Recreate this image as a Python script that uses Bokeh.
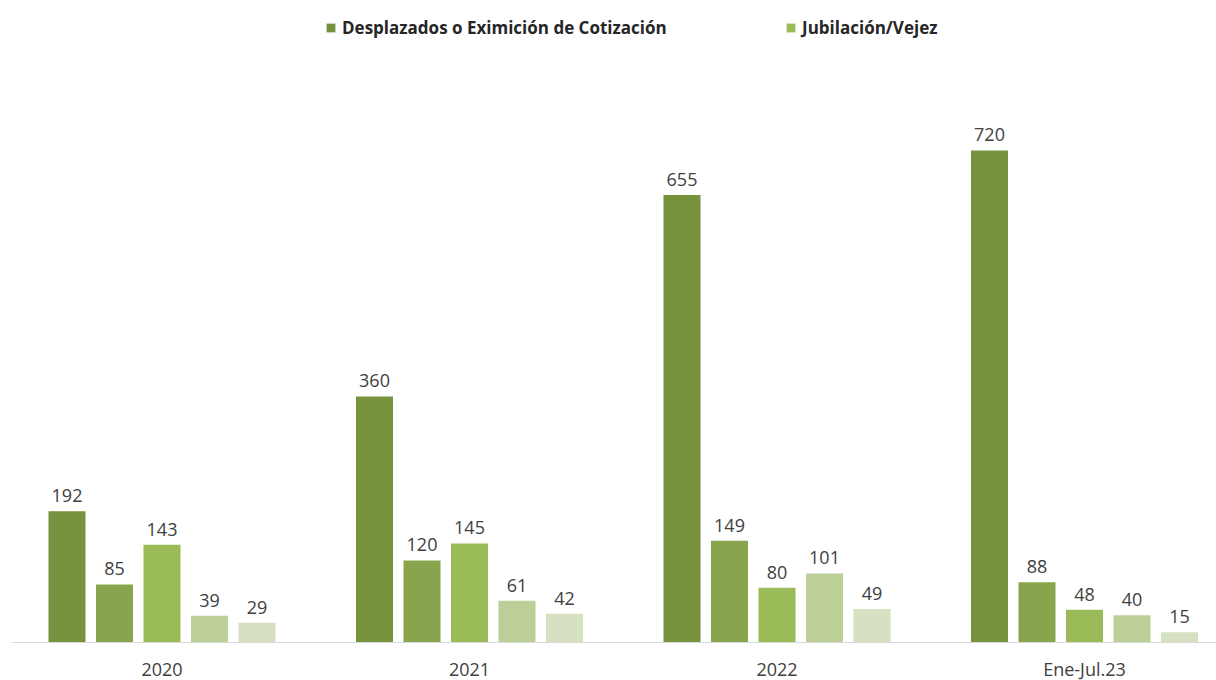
from bokeh.plotting import figure
from bokeh.models import ColumnDataSource, Legend, LegendItem, FixedTicker, Range1d
from bokeh.transform import dodge
from bokeh.core.properties import value
from bokeh.embed import file_html
from bokeh.resources import INLINE

categories = ["2020", "2021", "2022", "Ene-Jul.23"]
s1 = [192, 360, 655, 720]   # Desplazados o Eximición de Cotización
s2 = [85, 120, 149, 88]
s3 = [143, 145, 80, 48]     # Jubilación/Vejez
s4 = [39, 61, 101, 40]
s5 = [29, 42, 49, 15]
series = [s1, s2, s3, s4, s5]
series_names = ["Desplazados o Eximición de Cotización", "", "Jubilación/Vejez", "", ""]
colors = ["#76923C", "#88A54E", "#9BBB59", "#BBCF97", "#D5E1C0"]

FONT = "Open Sans"
x_pos = [i + 0.5 for i in range(len(categories))]

data = {"x": x_pos}
for i, s in enumerate(series):
    data[f"s{i}"] = s
    data[f"l{i}"] = [str(v) for v in s]
src = ColumnDataSource(data)

GW = 307.5  # px per category
LEFT = 11
p = figure(frame_width=1216 - LEFT, frame_height=642, output_backend="svg", toolbar_location=None,
           x_range=Range1d((LEFT - 7.75) / GW, (1216 - 7.75) / GW), y_range=Range1d(0, 939.5),
           min_border_left=LEFT, min_border_right=0, min_border_top=0, min_border_bottom=0)

step = 47.5 / GW
bw = 37.0 / GW
renderers = []
for i in range(5):
    off = (i - 2) * step
    r = p.vbar(x=dodge("x", off), top=f"s{i}", width=bw, bottom=0, source=src,
               fill_color=colors[i], line_color=None)
    renderers.append(r)
    p.text(x=dodge("x", off), y=f"s{i}", text=f"l{i}", source=src,
           text_align="center", text_baseline="bottom", y_offset=-9,
           text_font=value(FONT), text_font_size="18px", text_color="#404040")

p.xaxis.ticker = FixedTicker(ticks=x_pos)
p.xaxis.major_label_overrides = {x: c for x, c in zip(x_pos, categories)}
p.xaxis.major_label_text_font = FONT
p.xaxis.major_label_text_font_size = "18px"
p.xaxis.major_label_text_color = "#404040"
p.xaxis.major_label_standoff = 14
p.xaxis.major_tick_out = 0
p.xaxis.major_tick_in = 0
p.xaxis.major_tick_line_color = None
p.xaxis.minor_tick_line_color = None
p.xaxis.axis_line_color = "#D9D9D9"
p.xaxis.axis_line_width = 1
p.yaxis.visible = False
p.xgrid.visible = False
p.ygrid.visible = False
p.outline_line_color = None

def make_legend(r, label, x, y):
    lg = Legend(items=[LegendItem(label=label, renderers=[r])], location=(x, y),
                orientation="horizontal", padding=0, margin=0, spacing=0,
                glyph_width=11, glyph_height=11, label_standoff=6,
                label_text_font=FONT, label_text_font_size="17px",
                label_text_font_style="bold", label_text_color="#262626",
                border_line_color=None, background_fill_alpha=0)
    p.add_layout(lg, "center")

make_legend(renderers[0], series_names[0], 325 - LEFT, 603)
make_legend(renderers[2], series_names[2], 785 - LEFT, 603)

open("out.html", "w").write(file_html(p, INLINE))
